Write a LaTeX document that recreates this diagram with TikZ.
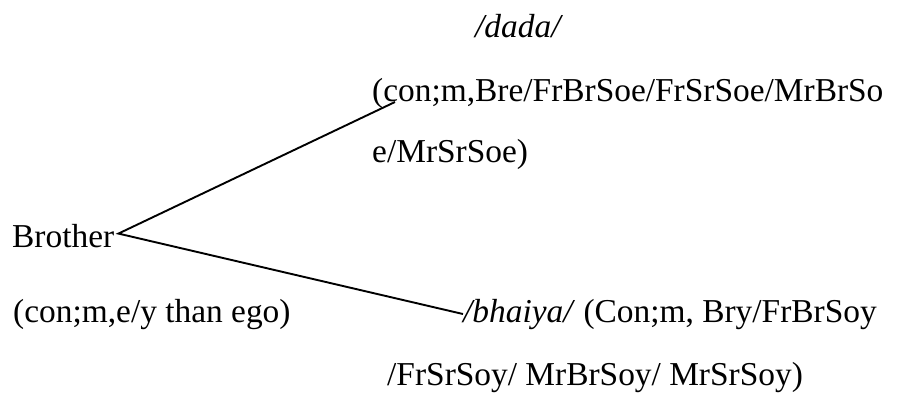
\documentclass[tikz,border=0pt]{standalone}
\usepackage{fontspec}
\setmainfont{Liberation Serif}
\begin{document}
\begin{tikzpicture}[x=1pt,y=-1pt,
  txt/.style={anchor=base west, inner sep=0pt, font=\fontsize{33.4}{40}\selectfont},
  link/.style={line width=1.9pt}]
\useasboundingbox (0,0) rectangle (904,399);

% kin term and its branches
\node[txt] (bro)     at (12,247)  {Brother};
\node[txt] (broNote) at (13,322)  {(con;m,e/y than ego)};

\node[txt] (dada)    at (475,37)  {\textit{/dada/}};
\node[txt] (dadaA)   at (372,101) {(con;m,Bre/FrBrSoe/FrSrSoe/MrBrSo};
\node[txt] (dadaB)   at (372,162) {e/MrSrSoe)};

\node[txt] (bhaiya)  at (463,322) {\textit{/bhaiya/} (Con;m, Bry/FrBrSoy};
\node[txt] (bhaiyaB) at (387,385) {/FrSrSoy/ MrBrSoy/ MrSrSoy)};

% branching lines
\coordinate (apex) at ([shift={(4,-2)}]bro.east);
\coordinate (upEnd) at ([shift={(23,1)}]dadaA.base west);
\draw[link] (upEnd) -- (apex) -- (bhaiya.west);
\end{tikzpicture}
\end{document}
